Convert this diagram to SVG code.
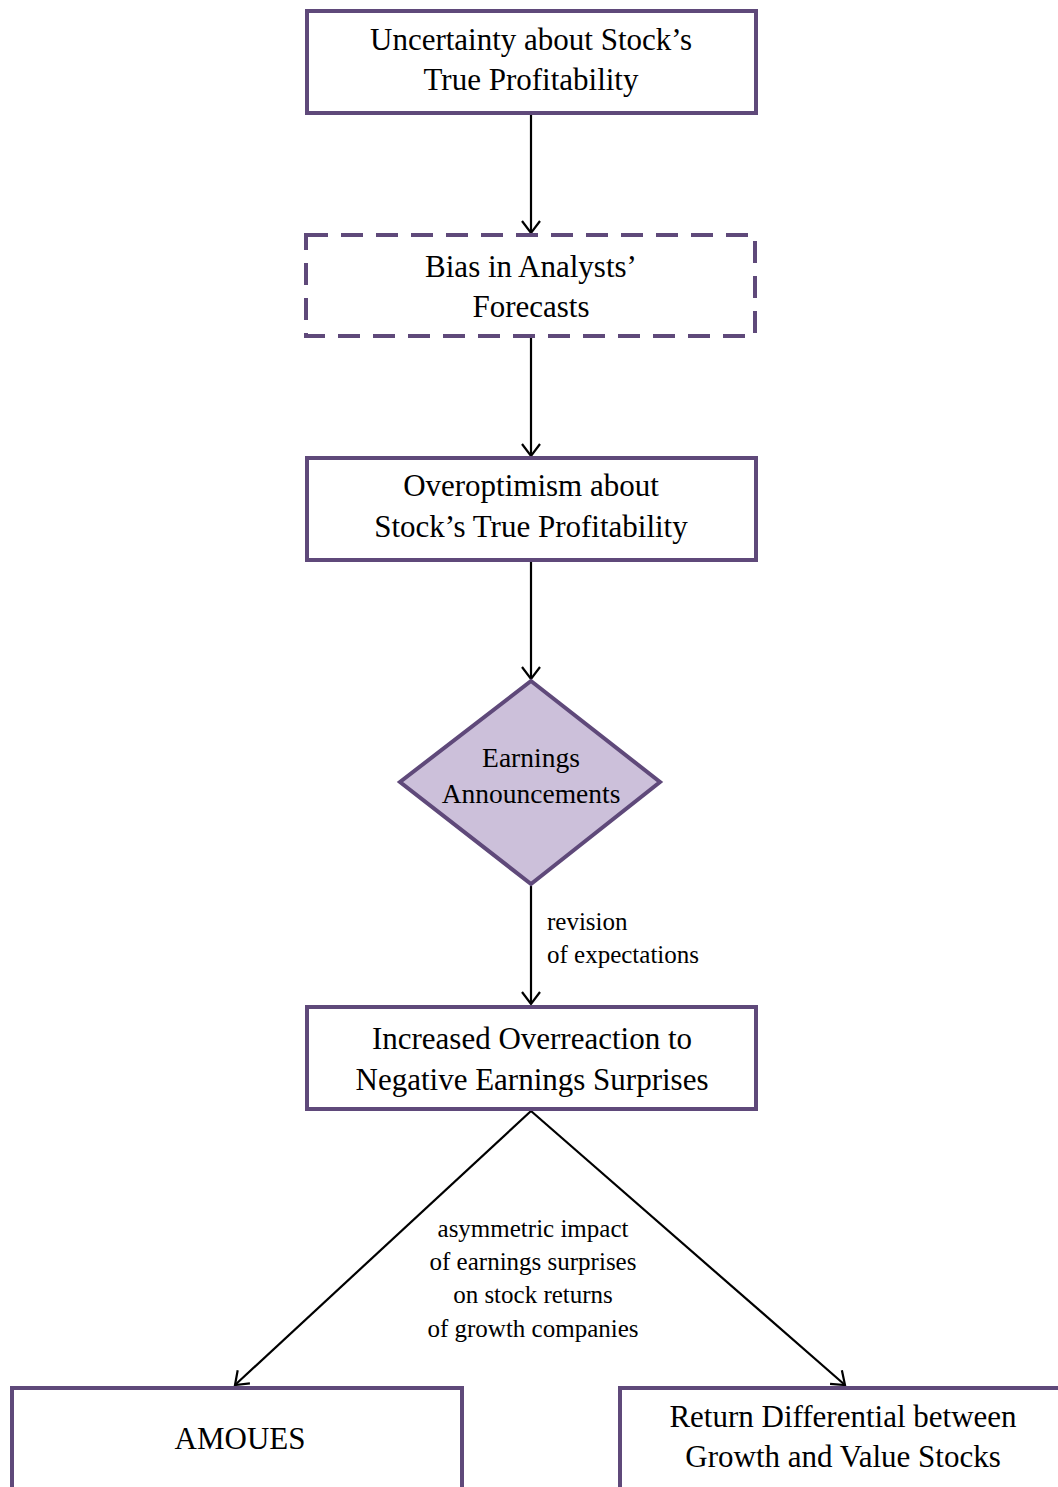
<svg xmlns="http://www.w3.org/2000/svg" width="1058" height="1487" viewBox="0 0 1058 1487">
<style>
.box{fill:#ffffff;stroke:#5f497a;stroke-width:4}
.dash{fill:#ffffff;stroke:#5f497a;stroke-width:4;stroke-dasharray:22,13}
.dia{fill:#ccc0da;stroke:#5f497a;stroke-width:4}
.t{font-family:"Liberation Serif","Times New Roman",serif;font-size:31px;fill:#000;text-anchor:middle}
.s{font-family:"Liberation Serif","Times New Roman",serif;font-size:25px;fill:#000}
.c{fill:none;stroke:#000;stroke-width:2.2}
</style>
<defs>
<marker id="arr" markerWidth="24" markerHeight="24" refX="20" refY="12" orient="auto" markerUnits="userSpaceOnUse">
<path d="M8,3 L20,12 L8,21" fill="none" stroke="#000" stroke-width="2.2"/>
</marker>
</defs>
<rect width="1058" height="1487" fill="#ffffff"/>
<g id="connectors">
<line class="c" x1="531" y1="115" x2="531" y2="233" marker-end="url(#arr)"/>
<line class="c" x1="531" y1="338" x2="531" y2="456" marker-end="url(#arr)"/>
<line class="c" x1="531" y1="562" x2="531" y2="679" marker-end="url(#arr)"/>
<line class="c" x1="531" y1="886" x2="531" y2="1004" marker-end="url(#arr)"/>
<line class="c" x1="531" y1="1111" x2="235" y2="1385" marker-end="url(#arr)"/>
<line class="c" x1="531" y1="1111" x2="845" y2="1385" marker-end="url(#arr)"/>
<text class="s" x="547" y="930">revision</text>
<text class="s" x="547" y="963">of expectations</text>
<text class="s" x="533" y="1237" text-anchor="middle">asymmetric impact</text>
<text class="s" x="533" y="1270" text-anchor="middle">of earnings surprises</text>
<text class="s" x="533" y="1303" text-anchor="middle">on stock returns</text>
<text class="s" x="533" y="1337" text-anchor="middle">of growth companies</text>
</g>
<g id="n1">
<rect class="box" x="307" y="11" width="449" height="102"/>
<text class="t" x="531" y="50">Uncertainty about Stock’s</text>
<text class="t" x="531" y="90">True Profitability</text>
</g>
<g id="n2">
<rect class="dash" x="306" y="235" width="449" height="101"/>
<text class="t" x="531" y="277">Bias in Analysts’</text>
<text class="t" x="531" y="317">Forecasts</text>
</g>
<g id="n3">
<rect class="box" x="307" y="458" width="449" height="102"/>
<text class="t" x="531" y="496">Overoptimism about</text>
<text class="t" x="531" y="537">Stock’s True Profitability</text>
</g>
<g id="n4">
<polygon class="dia" points="531,681 660,782 531,884 400,782"/>
<text class="t" x="531" y="767" style="font-size:27.5px">Earnings</text>
<text class="t" x="531" y="803" style="font-size:27.5px">Announcements</text>
</g>
<g id="n5">
<rect class="box" x="307" y="1007" width="449" height="102"/>
<text class="t" x="532" y="1049">Increased Overreaction to</text>
<text class="t" x="532" y="1090">Negative Earnings Surprises</text>
</g>
<g id="n6">
<rect class="box" x="12" y="1388" width="450" height="110"/>
<text class="t" x="240" y="1449">AMOUES</text>
</g>
<g id="n7">
<rect class="box" x="620" y="1388" width="450" height="110"/>
<text class="t" x="843" y="1427">Return Differential between</text>
<text class="t" x="843" y="1467">Growth and Value Stocks</text>
</g>
</svg>
